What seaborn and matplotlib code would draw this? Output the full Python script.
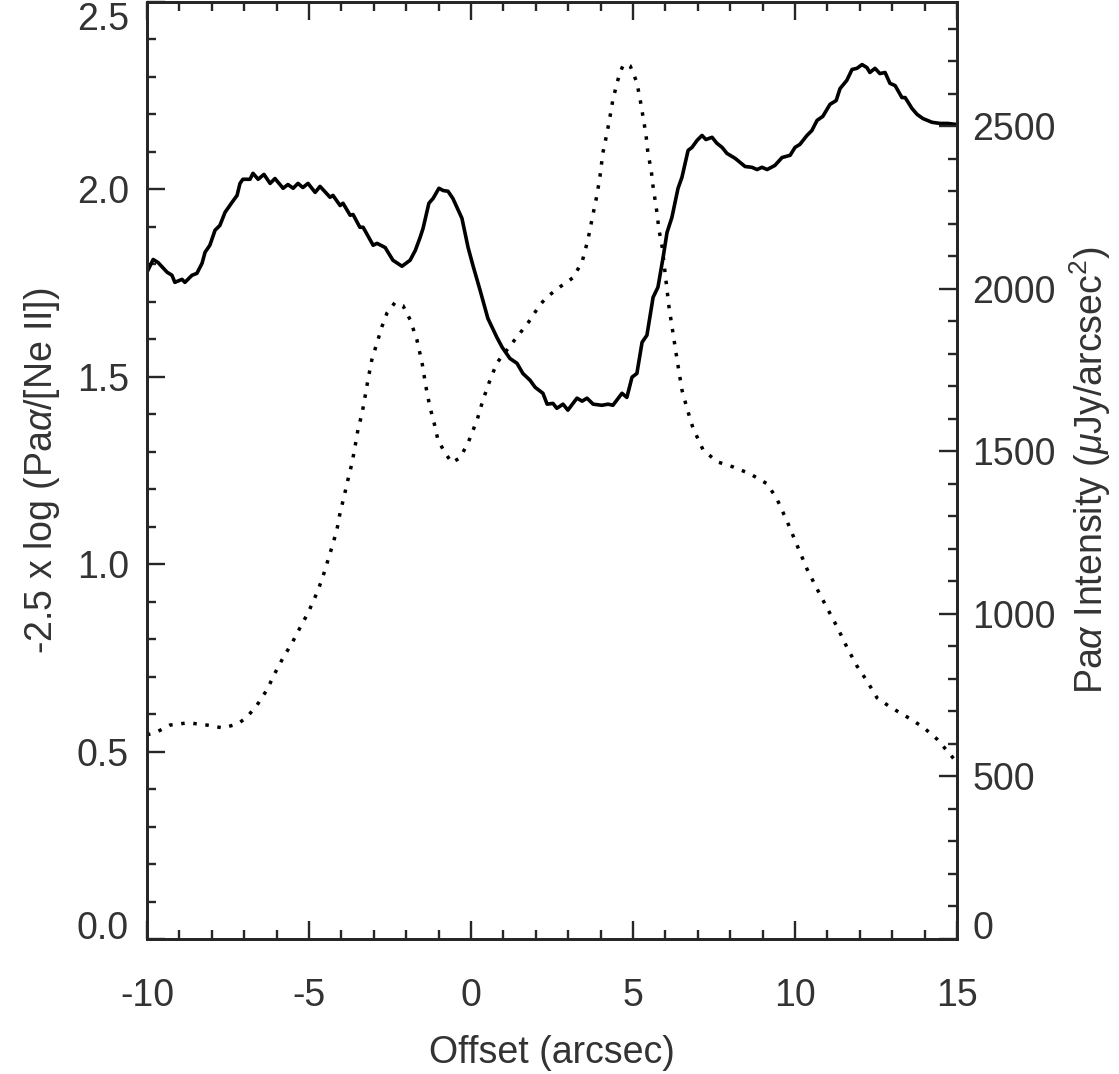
import numpy as np
import pandas as pd
import matplotlib
matplotlib.use('Agg')
import matplotlib.pyplot as plt
import seaborn as sns
from matplotlib.ticker import MultipleLocator

# ratio profile: -2.5 log(Pa-alpha / [Ne II])  (solid, left axis)
ratio_x = [-10.0, -9.81, -9.66, -9.38, -9.23, -9.14, -8.92, -8.83, -8.61, -8.46,
           -8.30, -8.21, -8.06, -7.90, -7.75, -7.59, -7.38, -7.22, -7.13, -7.04,
           -6.82, -6.73, -6.57, -6.39, -6.20, -6.05, -5.80, -5.65, -5.49, -5.34,
           -5.19, -5.03, -4.81, -4.66, -4.35, -4.26, -4.04, -3.95, -3.73, -3.64,
           -3.43, -3.33, -3.02, -2.90, -2.65, -2.41, -2.13, -1.88, -1.72, -1.57,
           -1.48, -1.30, -1.17, -0.99, -0.86, -0.71, -0.56, -0.28, -0.09, 0.06,
           0.28, 0.52, 0.80, 0.96, 1.20, 1.42, 1.60, 1.82, 1.98, 2.22,
           2.35, 2.53, 2.65, 2.84, 2.99, 3.27, 3.43, 3.58, 3.77, 4.04,
           4.23, 4.38, 4.66, 4.81, 4.97, 5.12, 5.28, 5.43, 5.62, 5.77,
           5.93, 6.05, 6.20, 6.39, 6.51, 6.70, 6.82, 6.98, 7.13, 7.25,
           7.44, 7.59, 7.75, 7.90, 8.15, 8.46, 8.67, 8.83, 8.98, 9.14,
           9.38, 9.60, 9.85, 10.00, 10.15, 10.37, 10.52, 10.68, 10.86, 11.08,
           11.27, 11.39, 11.60, 11.76, 11.91, 12.07, 12.22, 12.31, 12.47, 12.62,
           12.78, 12.93, 13.09, 13.30, 13.40, 13.61, 13.77, 13.95, 14.23, 14.48,
           14.72, 15.00]
ratio_y = [1.779, 1.813, 1.805, 1.779, 1.771, 1.752, 1.760, 1.752, 1.771, 1.776,
           1.803, 1.832, 1.851, 1.891, 1.904, 1.939, 1.965, 1.984, 2.016, 2.027,
           2.027, 2.043, 2.027, 2.040, 2.016, 2.029, 2.003, 2.013, 2.003, 2.016,
           2.005, 2.016, 1.992, 2.008, 1.979, 1.984, 1.957, 1.963, 1.931, 1.933,
           1.899, 1.899, 1.851, 1.856, 1.845, 1.811, 1.795, 1.811, 1.837, 1.872,
           1.896, 1.963, 1.976, 2.003, 1.997, 1.995, 1.976, 1.923, 1.845, 1.797,
           1.731, 1.656, 1.605, 1.579, 1.549, 1.536, 1.509, 1.491, 1.472, 1.456,
           1.427, 1.429, 1.416, 1.427, 1.411, 1.443, 1.435, 1.443, 1.427, 1.424,
           1.427, 1.424, 1.456, 1.445, 1.499, 1.509, 1.592, 1.611, 1.712, 1.739,
           1.819, 1.885, 1.925, 2.003, 2.032, 2.104, 2.112, 2.131, 2.144, 2.133,
           2.139, 2.123, 2.112, 2.096, 2.083, 2.061, 2.059, 2.053, 2.059, 2.053,
           2.064, 2.085, 2.091, 2.112, 2.120, 2.144, 2.157, 2.184, 2.195, 2.227,
           2.237, 2.269, 2.291, 2.320, 2.323, 2.333, 2.325, 2.312, 2.323, 2.309,
           2.312, 2.283, 2.277, 2.245, 2.245, 2.216, 2.200, 2.189, 2.179, 2.176,
           2.176, 2.173]

# Pa-alpha intensity profile (dotted, right axis), uJy/arcsec^2
paa_x = [-10.0, -9.75, -9.29, -8.73, -8.15, -7.65, -7.19, -6.91, -6.60, -6.30,
         -6.05, -5.80, -5.52, -5.28, -5.03, -4.81, -4.60, -4.44, -4.29, -4.14,
         -4.04, -3.92, -3.80, -3.67, -3.58, -3.49, -3.36, -3.27, -3.18, -3.06,
         -2.90, -2.75, -2.59, -2.35, -2.10, -1.88, -1.67, -1.51, -1.39, -1.27,
         -1.14, -1.02, -0.80, -0.59, -0.34, -0.09, 0.19, 0.37, 0.59, 0.80,
         1.11, 1.42, 1.76, 2.13, 2.35, 2.75, 3.15, 3.43, 3.61, 3.77,
         3.89, 3.98, 4.07, 4.20, 4.29, 4.38, 4.51, 4.60, 4.69, 4.80,
         4.91, 5.00, 5.12, 5.22, 5.31, 5.40, 5.46, 5.56, 5.62, 5.74,
         5.80, 5.90, 5.99, 6.05, 6.11, 6.20, 6.36, 6.51, 6.67, 6.85,
         7.16, 7.59, 8.09, 8.61, 9.14, 9.44, 9.75, 10.06, 10.37, 10.68,
         10.99, 11.30, 11.60, 11.91, 12.22, 12.53, 12.93, 13.46, 13.95, 14.38,
         14.78, 15.00]
paa_y = [628, 634, 658, 665, 658, 649, 662, 683, 720, 766,
         818, 865, 911, 957, 1003, 1052, 1105, 1157, 1206, 1258,
         1311, 1360, 1412, 1465, 1514, 1566, 1618, 1668, 1720, 1782,
         1834, 1883, 1926, 1957, 1948, 1905, 1843, 1772, 1698, 1637,
         1588, 1535, 1495, 1465, 1480, 1526, 1597, 1658, 1720, 1772,
         1812, 1852, 1895, 1951, 1975, 2006, 2034, 2083, 2151, 2231,
         2289, 2345, 2418, 2480, 2529, 2582, 2634, 2665, 2686, 2692,
         2686, 2665, 2634, 2582, 2529, 2474, 2418, 2366, 2314, 2234,
         2182, 2129, 2049, 1997, 1945, 1886, 1782, 1689, 1631, 1572,
         1505, 1468, 1452, 1431, 1400, 1354, 1286, 1212, 1138, 1077,
         1018, 960, 898, 840, 794, 742, 714, 683, 652, 615,
         569, 542]

x_ticks = [-10, -5, 0, 5, 10, 15]
ratio_ticks = [0.0, 0.5, 1.0, 1.5, 2.0, 2.5]
paa_ticks = [0, 500, 1000, 1500, 2000, 2500]

ratio = pd.DataFrame({'offset': ratio_x, 'ratio': ratio_y})
paa = pd.DataFrame({'offset': paa_x, 'intensity': paa_y})

sns.set_style('ticks')
plt.rcParams['font.family'] = ['Liberation Sans', 'DejaVu Sans']
plt.rcParams['mathtext.fontset'] = 'custom'
plt.rcParams['mathtext.rm'] = 'Liberation Sans'
plt.rcParams['mathtext.it'] = 'Liberation Sans:italic'
plt.rcParams['axes.unicode_minus'] = False
txt = '#333333'
fs = 27

fig = plt.figure(figsize=(11.19, 10.74), dpi=100)
ax = fig.add_axes([147 / 1119, 135 / 1074, 810 / 1119, 937 / 1074])
ax2 = ax.twinx()

sns.lineplot(data=ratio, x='offset', y='ratio', ax=ax, color='black',
             linewidth=2.6, sort=False)
sns.lineplot(data=paa, x='offset', y='intensity', ax=ax2, color='black',
             linewidth=2.5, linestyle=(0, (1, 2.5)), sort=False)

ax.set_xlim(-10, 15)
ax.set_ylim(0, 2.5)
ax2.set_ylim(0, 2882)

ax.set_xticks(x_ticks)
ax.set_xticklabels([str(v) for v in x_ticks])
ax.set_yticks(ratio_ticks)
ax.set_yticklabels(['%.1f' % v for v in ratio_ticks])
ax2.set_yticks(paa_ticks)
ax2.set_yticklabels([str(v) for v in paa_ticks])
ax.xaxis.set_minor_locator(MultipleLocator(1))
ax.yaxis.set_minor_locator(MultipleLocator(0.1))
ax2.yaxis.set_minor_locator(MultipleLocator(100))

ax.tick_params(axis='x', which='both', direction='in', top=True, bottom=True,
               labelsize=fs, labelcolor=txt, pad=28, width=1.7)
ax.tick_params(axis='y', which='both', direction='in', left=True, right=False,
               labelsize=fs, labelcolor=txt, pad=13, width=1.7)
ax2.tick_params(axis='y', which='both', direction='in', right=True, left=False,
                labelsize=fs, labelcolor=txt, pad=11, width=1.7)
for a in (ax, ax2):
    a.tick_params(which='major', length=13)
    a.tick_params(which='minor', length=6.5)
    for s in a.spines.values():
        s.set_linewidth(2)
        s.set_visible(True)

ax.set_xlabel('Offset (arcsec)', fontsize=fs, color=txt, va='center')
ax.set_ylabel(r'-2.5 x log (Pa$\alpha$/[Ne II])', fontsize=fs, color=txt,
              va='center', ha='center')
ax2.set_ylabel(r'Pa$\alpha$ Intensity ($\mu$Jy/arcsec$^2$)', fontsize=fs,
               color=txt, va='center', ha='center')
ax.xaxis.set_label_coords(0.5, -0.1215)
ax.yaxis.set_label_coords(-0.130, 0.5)
ax2.yaxis.set_label_coords(1.164, 0.5)

lab = ax.get_yticklabels()
lab[0].set_va('baseline')
lab[-1].set_va('top')
ax2.get_yticklabels()[0].set_va('baseline')

fig.savefig('out.png', dpi=100)
